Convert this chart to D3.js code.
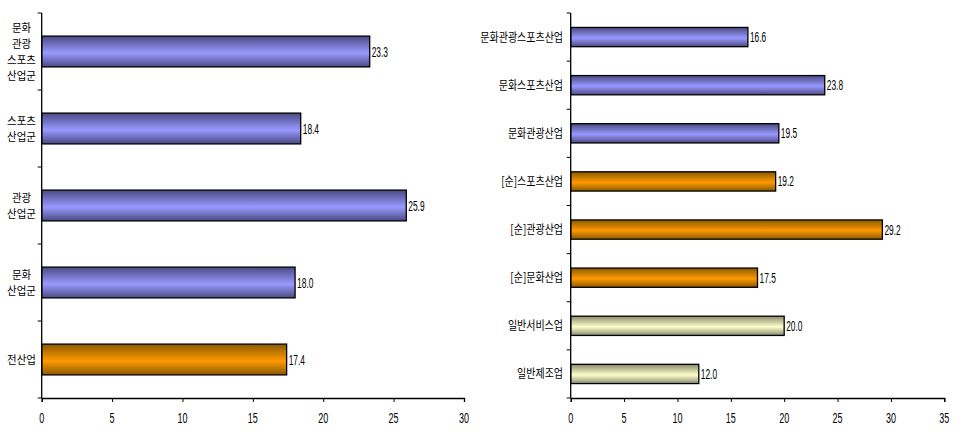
<!DOCTYPE html>
<html><head><meta charset="utf-8">
<script src="https://cdn.jsdelivr.net/npm/d3@7"></script>
<style>body{margin:0;background:#fff}svg{display:block}</style>
</head><body>
<svg id="c" width="960" height="440"></svg>
<script>
// ---- data ----
const leftCats = ["문화\n관광\n스포츠\n산업군", "스포츠\n산업군", "관광\n산업군", "문화\n산업군", "전산업"];
const leftVals = [23.3, 18.4, 25.9, 18.0, 17.4];
const leftGroups = ["blue", "blue", "blue", "blue", "orange"];
const leftTicks = [0, 5, 10, 15, 20, 25, 30];

const rightCats = ["문화관광스포츠산업", "문화스포츠산업", "문화관광산업", "[순]스포츠산업", "[순]관광산업", "[순]문화산업", "일반서비스업", "일반제조업"];
const rightVals = [16.6, 23.8, 19.5, 19.2, 29.2, 17.5, 20.0, 12.0];
const rightGroups = ["blue", "blue", "blue", "orange", "orange", "orange", "yellow", "yellow"];
const rightTicks = [0, 5, 10, 15, 20, 25, 30, 35];

const svg = d3.select("#c");
const defs = svg.append("defs");
const grads = {
  blue: ["#4a4a84", "#9999ff", "#4a4a84"],
  orange: ["#8a5a00", "#ff9900", "#8a5a00"],
  yellow: ["#8a8a6c", "#ffffcc", "#8a8a6c"]
};
Object.entries(grads).forEach(([k, c]) => {
  const g = defs.append("linearGradient").attr("id", "g-" + k).attr("x1", 0).attr("y1", 0).attr("x2", 0).attr("y2", 1);
  g.append("stop").attr("offset", "0%").attr("stop-color", c[0]);
  g.append("stop").attr("offset", "55%").attr("stop-color", c[1]);
  g.append("stop").attr("offset", "100%").attr("stop-color", c[2]);
});

const KFONT = "'Noto Sans CJK KR', sans-serif";
const NFONT = "'Liberation Sans', Arial, sans-serif";

function ctext(sel, x, y, str, opts) {
  return sel.append("text")
    .attr("transform", `translate(${x},${y}) scale(${opts.sx},1)`)
    .attr("text-anchor", opts.anchor || "start")
    .attr("font-family", opts.font)
    .attr("font-size", opts.size)
    .attr("fill", "#000")
    .text(str);
}

function chart(cfg) {
  const g = svg.append("g");
  const x = d3.scaleLinear().domain([0, cfg.max]).range([cfg.x0, cfg.x1]);
  const y = d3.scaleBand().domain(cfg.cats).range([cfg.y0, cfg.y1]).paddingInner(0.6).paddingOuter(0.3);
  const step = y.step();

  // bars
  g.selectAll("rect.bar").data(cfg.cats).join("rect")
    .attr("x", x(0)).attr("y", d => y(d))
    .attr("width", (d, i) => x(cfg.vals[i]) - x(0))
    .attr("height", y.bandwidth())
    .attr("fill", (d, i) => `url(#g-${cfg.groups[i]})`)
    .attr("stroke", "#000").attr("stroke-width", 1.3);

  // value labels
  cfg.cats.forEach((c, i) => {
    ctext(g, x(cfg.vals[i]) + 2, y(c) + y.bandwidth() / 2 + 5, cfg.vals[i].toFixed(1),
      { sx: 0.6, size: 14, font: NFONT });
  });

  // x axis
  const xa = g.append("g").attr("transform", `translate(0,${cfg.y1})`)
    .call(d3.axisBottom(x).tickValues(cfg.ticks).tickSize(4).tickFormat(""));
  xa.select(".domain").attr("stroke", "#000").attr("stroke-width", 1.3);
  xa.selectAll(".tick line").attr("stroke", "#000");
  cfg.ticks.forEach(t => {
    ctext(g, x(t), cfg.y1 + 25, String(t), { sx: 0.6, size: 15, font: NFONT, anchor: "middle" });
  });

  // y axis line + boundary ticks
  g.append("line").attr("x1", x(0)).attr("x2", x(0)).attr("y1", cfg.y0).attr("y2", cfg.y1)
    .attr("stroke", "#000").attr("stroke-width", 1.3);
  d3.range(cfg.cats.length + 1).forEach(i => {
    const yy = cfg.y0 + i * step;
    g.append("line").attr("x1", x(0) - 4).attr("x2", x(0)).attr("y1", yy).attr("y2", yy).attr("stroke", "#000");
  });

  // category labels
  cfg.cats.forEach(c => {
    const lines = c.split("\n");
    const cy = y(c) + y.bandwidth() / 2;
    const lh = 16;
    lines.forEach((ln, j) => {
      const yy = cy + (j - (lines.length - 1) / 2) * lh + 4.5;
      ctext(g, cfg.labelX, yy, ln, { sx: cfg.labelSx, size: cfg.labelSize, font: KFONT, anchor: cfg.labelAnchor });
    });
  });
}

chart({ cats: leftCats, vals: leftVals, groups: leftGroups, ticks: leftTicks, max: 30,
  x0: 41.7, x1: 464, y0: 13, y1: 398, labelX: 21.5, labelAnchor: "middle", labelSize: 11, labelSx: 0.95 });
chart({ cats: rightCats, vals: rightVals, groups: rightGroups, ticks: rightTicks, max: 35,
  x0: 570.7, x1: 944.3, y0: 13, y1: 398, labelX: 563, labelAnchor: "end", labelSize: 12.5, labelSx: 0.8 });
</script>
</body></html>
